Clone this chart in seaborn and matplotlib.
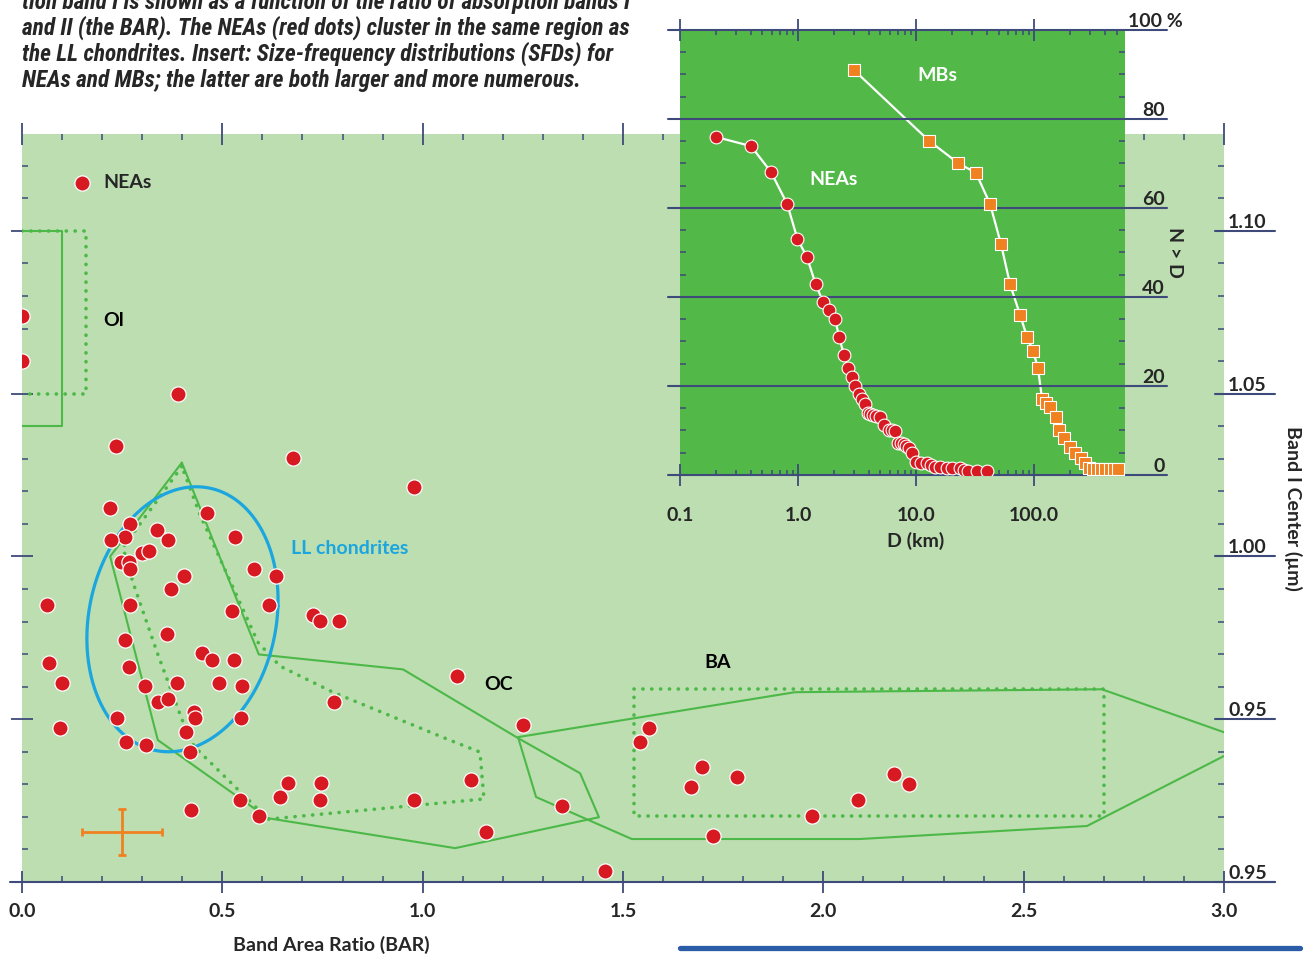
import numpy as np
import pandas as pd
import matplotlib
matplotlib.use("Agg")
import matplotlib.pyplot as plt
import seaborn as sns
from matplotlib.ticker import MultipleLocator, LogLocator, NullFormatter, FixedLocator
from matplotlib.lines import Line2D
from matplotlib import font_manager

# ---------------- data ----------------
# Main panel: NEAs (Band Area Ratio vs Band I center)
nea_bar = [0.000, 0.000, 0.389, 0.235, 0.676, 0.978, 0.220, 0.462, 0.270, 0.337,
           0.257, 0.222, 0.364, 0.532, 0.299, 0.317, 0.247, 0.267, 0.270, 0.579,
           0.634, 0.404, 0.372, 0.062, 0.270, 0.616, 0.524, 0.726, 0.744, 0.791,
           0.362, 0.257, 0.067, 0.267, 0.449, 0.474, 0.529, 0.100, 0.307, 0.387,
           0.492, 0.549, 0.339, 0.364, 0.429, 0.432, 0.237, 0.547, 0.095, 0.409,
           0.260, 0.309, 0.419, 0.779, 1.086, 1.250, 1.121, 0.664, 0.746, 0.644,
           0.744, 0.544, 0.978, 0.422, 0.591, 1.348, 1.158, 1.455, 1.542, 1.565,
           1.697, 1.784, 1.670, 1.724, 1.972, 2.086, 2.176, 2.214]
nea_b1c = [1.0739, 1.0601, 1.0500, 1.0340, 1.0301, 1.0212, 1.0150, 1.0132, 1.0101, 1.0080,
           1.0061, 1.0049, 1.0049, 1.0061, 1.0009, 1.0018, 0.9982, 0.9982, 0.9960, 0.9960,
           0.9939, 0.9939, 0.9899, 0.9850, 0.9850, 0.9850, 0.9831, 0.9819, 0.9801, 0.9801,
           0.9761, 0.9742, 0.9672, 0.9660, 0.9702, 0.9681, 0.9681, 0.9610, 0.9601, 0.9610,
           0.9610, 0.9601, 0.9552, 0.9561, 0.9521, 0.9503, 0.9503, 0.9503, 0.9472, 0.9460,
           0.9429, 0.9420, 0.9399, 0.9552, 0.9632, 0.9482, 0.9313, 0.9304, 0.9304, 0.9261,
           0.9252, 0.9252, 0.9252, 0.9221, 0.9202, 0.9233, 0.9153, 0.9034, 0.9429, 0.9472,
           0.9353, 0.9322, 0.9291, 0.9141, 0.9202, 0.9252, 0.9331, 0.9301]

# Meteorite-class regions (outlines)
ol_solid_x = [0.0, 0.100, 0.100, 0.0]
ol_solid_y = [1.100, 1.100, 1.0402, 1.0402]
ol_dot_x = [0.0, 0.160, 0.160, 0.0]
ol_dot_y = [1.100, 1.100, 1.050, 1.050]
oc_solid_x = [0.399, 0.220, 0.339, 0.614, 1.081, 1.440, 1.393, 1.238, 0.951, 0.591, 0.399]
oc_solid_y = [1.0288, 1.0000, 0.9436, 0.9196, 0.9104, 0.9199, 0.9334, 0.9442, 0.9653, 0.9699, 1.0288]
oc_dot_x = [0.399, 0.252, 0.277, 0.337, 0.399, 0.429, 0.614, 1.153, 1.143, 1.061, 0.776, 0.644, 0.589, 0.444, 0.399]
oc_dot_y = [1.0276, 1.0028, 0.9920, 0.9706, 0.9500, 0.9417, 0.9193, 0.9255, 0.9399, 0.9439, 0.9583, 0.9663, 0.9736, 1.0129, 1.0276]
ba_solid_x = [3.000, 2.695, 1.929, 1.238, 1.283, 1.522, 2.091, 2.658, 3.000]
ba_solid_y = [0.9460, 0.9592, 0.9583, 0.9445, 0.9261, 0.9132, 0.9132, 0.9172, 0.9387]
ba_dot_x = [1.527, 2.700, 2.700, 1.527, 1.527]
ba_dot_y = [0.9592, 0.9592, 0.9202, 0.9202, 0.9592]

# LL chondrite ellipse: centre and two conjugate semi-diameters
ll_center = (0.4005, 0.9807)
ll_axis_a = (0.2383, 0.0040)
ll_axis_b = (0.0112, 0.0405)

# Typical error bar
err_x, err_y, err_dx, err_dy = 0.25, 0.9153, 0.10, 0.0071

x_ticks = [0.0, 0.5, 1.0, 1.5, 2.0, 2.5, 3.0]
x_tick_labels = ["0.0", "0.5", "1.0", "1.5", "2.0", "2.5", "3.0"]
y_ticks = [0.90, 0.95, 1.00, 1.05, 1.10]
y_tick_labels = ["0.95", "0.95", "1.00", "1.05", "1.10"]

# Inset: size-frequency distributions (cumulative %, N > D)
sfd_nea_D = [0.20, 0.40, 0.59, 0.81, 0.99, 1.19, 1.41, 1.63, 1.83, 2.06, 2.23, 2.45, 2.65,
             2.87, 3.04, 3.29, 3.49, 3.70, 3.92, 4.10, 4.32, 4.60, 4.95, 5.36, 5.90, 6.20,
             6.64, 7.03, 7.40, 7.91, 8.30, 8.73, 9.25, 10.0, 11.0, 12.4, 13.5, 14.5, 16.0,
             18.3, 20.0, 23.6, 25.5, 27.6, 33.0, 40.0]
sfd_nea_N = [76.0, 73.9, 68.1, 60.9, 53.0, 49.0, 42.9, 38.9, 37.1, 35.1, 31.0, 27.0, 24.0,
             22.0, 20.0, 18.2, 17.1, 16.0, 13.9, 13.7, 13.5, 13.3, 13.0, 11.2, 10.1, 10.0,
             9.9, 7.2, 7.1, 7.0, 6.5, 6.1, 4.9, 2.9, 2.8, 2.7, 2.2, 1.8, 1.7,
             1.6, 1.6, 1.5, 1.2, 1.0, 0.9, 0.9]
sfd_mb_D = [2.98, 12.9, 22.7, 32.2, 42.4, 52.5, 62.6, 76.1, 87.3, 98.2, 108, 117, 127, 137,
            154, 163, 180, 202, 222, 250, 270, 292, 315, 340, 370, 400, 440, 480, 515]
sfd_mb_N = [91.0, 75.1, 70.1, 67.9, 60.9, 51.9, 42.9, 36.0, 31.0, 27.9, 24.0, 17.1, 16.2, 15.3,
            13.0, 10.1, 8.3, 6.3, 4.9, 3.8, 2.7, 1.6, 1.4, 1.3, 1.3, 1.3, 1.3, 1.3, 1.3]
inset_x_ticks = [0.1, 1.0, 10.0, 100.0]
inset_x_tick_labels = ["0.1", "1.0", "10.0", "100.0"]
inset_y_ticks = [0, 20, 40, 60, 80, 100]
inset_y_tick_labels = ["0", "20", "40", "60", "80", "100 %"]

caption_lines = [
    "tion band I is shown as a function of the ratio of absorption bands I",
    "and II (the BAR). The NEAs (red dots) cluster in the same region as",
    "the LL chondrites. Insert: Size-frequency distributions (SFDs) for",
    "NEAs and MBs; the latter are both larger and more numerous.",
]

# ---------------- style ----------------
sns.set_style("white")
plt.rcParams["font.family"] = ["Lato", "DejaVu Sans"]
WT = "bold"   # region labels, legend, inset curve labels
TWT = "bold"  # tick labels and axis titles

RED = "#d71a21"
ORANGE = "#f08121"
GREEN_LINE = "#4cb848"
BLUE = "#1ba6df"
BG_MAIN = "#bcdeb0"
BG_INSET = "#52b848"
AX = "#3e4a7a"
FS = 14
DOTS = (0, (0.05, 2.4))

W, H = 1308, 955
fig = plt.figure(figsize=(W / 100, H / 100), dpi=100)
fig.patch.set_facecolor("white")

# ---------------- main axes ----------------
ax = fig.add_axes([22 / W, 73 / H, 1202 / W, 748 / H])
ax.set_facecolor(BG_MAIN)
for s in ax.spines.values():
    s.set_visible(False)
ax.set_xlim(0, 3.0)
ax.set_ylim(0.90, 1.12975)

# region outlines
for xs, ys in [(ol_solid_x, ol_solid_y), (oc_solid_x, oc_solid_y), (ba_solid_x, ba_solid_y)]:
    ax.plot(xs, ys, color=GREEN_LINE, lw=1.5, zorder=2)
for xs, ys in [(ol_dot_x, ol_dot_y), (oc_dot_x, oc_dot_y), (ba_dot_x, ba_dot_y)]:
    ax.plot(xs, ys, color=GREEN_LINE, lw=2.6, ls=DOTS, dash_capstyle="round", zorder=2)

t = np.linspace(0, 2 * np.pi, 300)
ex = ll_center[0] + ll_axis_a[0] * np.cos(t) + ll_axis_b[0] * np.sin(t)
ey = ll_center[1] + ll_axis_a[1] * np.cos(t) + ll_axis_b[1] * np.sin(t)
ax.plot(ex, ey, color=BLUE, lw=2.3, zorder=3)

# NEAs
df_nea = pd.DataFrame({"BAR": nea_bar, "B1C": nea_b1c})
sns.scatterplot(data=df_nea, x="BAR", y="B1C", ax=ax, color=RED, s=120,
                edgecolor="white", linewidth=0.9, zorder=5, label="NEAs")

# error bar
ax.errorbar(err_x, err_y, xerr=err_dx, yerr=err_dy, color=ORANGE, lw=2,
            capsize=2.8, capthick=2, zorder=4)

# labels on regions
ax.text(0.202, 1.0724, "Ol", fontsize=FS, color="black", va="center", ha="left", weight=WT)
ax.text(0.671, 1.0025, "LL chondrites", fontsize=FS, color=BLUE, va="center", ha="left", weight=WT)
ax.text(1.153, 0.9607, "OC", fontsize=FS, color="black", va="center", ha="left", weight=WT)
ax.text(1.702, 0.9675, "BA", fontsize=FS, color="black", va="center", ha="left", weight=WT)

leg = ax.legend(loc="center left", bbox_to_anchor=(0.0421, 0.9345), frameon=False,
                prop={"size": FS, "weight": WT}, handlelength=1.0,
                handletextpad=0.6, borderpad=0, borderaxespad=0)

# ticks
ax.xaxis.set_major_locator(FixedLocator(x_ticks))
ax.set_xticklabels(x_tick_labels)
ax.xaxis.set_minor_locator(MultipleLocator(0.1))
ax.tick_params(axis="x", which="major", top=True, bottom=True, direction="inout",
               length=16, width=1.3, color=AX, pad=7, labelsize=FS)
ax.tick_params(axis="x", which="minor", top=True, bottom=True, direction="in",
               length=4.3, width=1.1, color=AX)
ax.yaxis.set_major_locator(FixedLocator(y_ticks))
ax.set_yticklabels(y_tick_labels)
ax.yaxis.set_minor_locator(MultipleLocator(0.01))
ax.tick_params(axis="y", which="major", left=True, right=False, labelleft=False,
               labelright=True, direction="inout", length=16, width=1.3, color=AX,
               pad=-5, labelsize=FS)
ax.tick_params(axis="y", which="minor", left=True, right=True, direction="in",
               length=4.3, width=1.1, color=AX)
for lab in ax.get_yticklabels() + ax.get_xticklabels():
    lab.set_fontweight(TWT)
for lab in ax.get_yticklabels():
    lab.set_va("bottom")

ytr = ax.get_yaxis_transform()
for v in y_ticks:
    ax.add_line(Line2D([1 - 9 / 1202, 1 + 51 / 1202], [v, v], transform=ytr,
                       color=AX, lw=1.5, clip_on=False))
ax.add_line(Line2D([-12 / 1202, 1 + 51 / 1202], [0, 0], transform=ax.transAxes,
                   color=AX, lw=1.5, clip_on=False))

ax.set_xlabel("Band Area Ratio (BAR)", fontsize=FS, weight=TWT)
ax.xaxis.set_label_coords(0.257, -0.072)
ax.yaxis.set_label_position("right")
ax.set_ylabel("Band I Center (µm)", fontsize=FS, rotation=-90, va="center", ha="center", weight=TWT)
ax.yaxis.set_label_coords(1.0574, 0.5)

# ---------------- inset ----------------
axi = fig.add_axes([680 / W, (H - 475) / H, 445 / W, 445 / H])
axi.set_facecolor(BG_INSET)
for s in axi.spines.values():
    s.set_visible(False)
axi.set_xscale("log")
axi.set_xlim(0.1, 590)
axi.set_ylim(0, 100)

sns.lineplot(x=sfd_nea_D, y=sfd_nea_N, sort=False, estimator=None, color="white",
             lw=1.6, ax=axi, zorder=2)
sns.scatterplot(x=sfd_nea_D, y=sfd_nea_N, ax=axi, color=RED, marker="o", s=85,
                edgecolor="white", linewidth=0.8, zorder=3)
sns.lineplot(x=sfd_mb_D, y=sfd_mb_N, sort=False, estimator=None, color="white",
             lw=1.6, ax=axi, zorder=2)
sns.scatterplot(x=sfd_mb_D, y=sfd_mb_N, ax=axi, color=ORANGE, marker="s", s=85,
                edgecolor="white", linewidth=0.8, zorder=3)

axi.text(2.02, 66.5, "NEAs", color="white", fontsize=FS, ha="center", va="center", weight=WT)
axi.text(15.1, 89.7, "MBs", color="white", fontsize=FS, ha="center", va="center", weight=WT)

axi.xaxis.set_major_locator(FixedLocator(inset_x_ticks))
axi.set_xticklabels(inset_x_tick_labels)
axi.xaxis.set_minor_locator(LogLocator(base=10, subs=np.arange(2, 10), numticks=30))
axi.xaxis.set_minor_formatter(NullFormatter())
axi.tick_params(axis="x", which="major", top=True, bottom=True, direction="inout",
                length=16, width=1.3, color=AX, pad=15, labelsize=FS)
axi.tick_params(axis="x", which="minor", top=True, bottom=True, direction="in",
                length=3.6, width=1.1, color=AX)
for lab in axi.get_xticklabels():
    lab.set_fontweight(TWT)
axi.yaxis.set_major_locator(FixedLocator(inset_y_ticks))
axi.yaxis.set_minor_locator(MultipleLocator(5))
axi.tick_params(axis="y", which="major", length=0, labelleft=False, labelright=False)
axi.tick_params(axis="y", which="minor", left=True, right=True, direction="in",
                length=4.3, width=1.1, color=AX)

itr = axi.get_yaxis_transform()
for v, lab in zip(inset_y_ticks, inset_y_tick_labels):
    axi.add_line(Line2D([-12 / 445, 1 + 42 / 445], [v, v], transform=itr,
                        color=AX, lw=1.5, clip_on=False))
    if lab.endswith("%"):
        axi.text(1 + 3 / 445, v, lab, transform=itr, ha="left", va="bottom", fontsize=FS, weight=TWT)
    else:
        axi.text(1 + 40 / 445, v, lab, transform=itr, ha="right", va="bottom", fontsize=FS, weight=TWT)

axi.set_xlabel("D (km)", fontsize=FS, weight=TWT)
axi.xaxis.set_label_coords(0.53, -0.128)
axi.yaxis.set_label_position("right")
axi.set_ylabel("N > D", fontsize=FS, rotation=-90, va="center", ha="center", weight=TWT)
axi.yaxis.set_label_coords(1.112, 0.5)

# ---------------- caption ----------------
names = {f.name for f in font_manager.fontManager.ttflist}
cands = ["Liberation Sans Narrow", "Roboto Condensed", "Open Sans Condensed",
         "DejaVu Sans Condensed", "Noto Sans"]
cap_font = next((c for c in cands if c in names), "DejaVu Sans")
baselines = [9, 35, 61, 87]
cap_texts = []
for line, b in zip(caption_lines, baselines):
    cap_texts.append(fig.text(22 / W, 1 - b / H, line, fontsize=14, style="italic",
                              weight="bold", family=[cap_font, "DejaVu Sans"],
                              va="baseline", ha="left"))
fig.canvas.draw()
w = cap_texts[1].get_window_extent().width
fs = 14 * 610 / w
for tx in cap_texts:
    tx.set_fontsize(fs)

# bottom-right decorative rule
fig.add_artist(Line2D([680 / W, 1300 / W], [1 - 948 / H, 1 - 948 / H], color="#2b5ca8", lw=3.8))

fig.savefig("out.png", dpi=100)
